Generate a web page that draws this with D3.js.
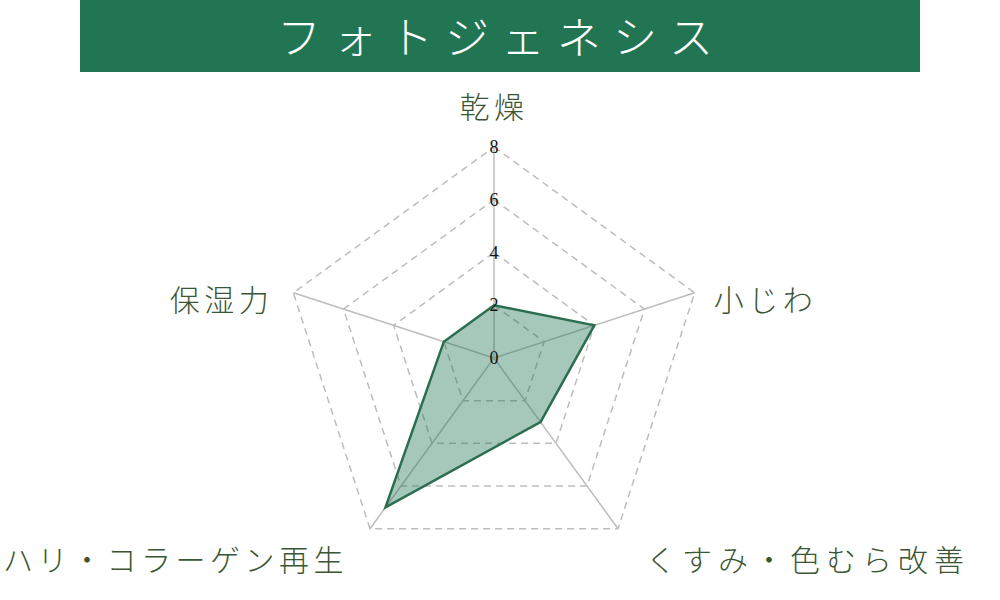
<!DOCTYPE html>
<html>
<head>
<meta charset="utf-8">
<script src="https://cdn.jsdelivr.net/npm/d3@7"></script>
<style>
  body { margin: 0; background: #fff; }
  svg { display: block; }
</style>
</head>
<body>
<div class="container"></div>
<script>
var title = 'フォトジェネシス';
var categories = ['乾燥', '小じわ', 'くすみ・色むら改善', 'ハリ・コラーゲン再生', '保湿力'];
var values = [2, 4, 3, 7, 2];
var ticks = [0, 2, 4, 6, 8];

const width = 1000, height = 600;
const cx = 494, cy = 358, radius = 211;
const green = '#217552';
const labelColor = '#3b5634';
const jp = "'Noto Sans CJK JP', sans-serif";

const svg = d3.select('.container')
  .append('svg')
  .attr('width', width)
  .attr('height', height);

// title banner
svg.append('rect')
  .attr('x', 80).attr('y', 0)
  .attr('width', 840).attr('height', 72)
  .attr('fill', green);

svg.append('text')
  .attr('x', 501).attr('y', 35)
  .attr('text-anchor', 'middle')
  .attr('dominant-baseline', 'central')
  .attr('font-family', jp)
  .attr('font-weight', 300)
  .attr('font-size', 44)
  .attr('letter-spacing', 12)
  .attr('fill', '#fff')
  .text(title);

const r = d3.scaleLinear().domain([0, 8]).range([0, radius]);
const angle = d3.scalePoint().domain(d3.range(categories.length))
  .range([0, 2 * Math.PI * (categories.length - 1) / categories.length]);

const pt = (i, v) => [cx + r(v) * Math.sin(angle(i)), cy - r(v) * Math.cos(angle(i))];

const g = svg.append('g');

// dashed rings
g.append('g')
  .selectAll('path')
  .data(ticks.filter(t => t > 0))
  .join('path')
  .attr('d', t => d3.line()(categories.map((c, i) => pt(i, t))) + 'Z')
  .attr('fill', 'none')
  .attr('stroke', '#bdbdbd')
  .attr('stroke-width', 1.5)
  .attr('stroke-dasharray', '7,5');

// spokes
g.append('g')
  .selectAll('line')
  .data(categories)
  .join('line')
  .attr('x1', cx).attr('y1', cy)
  .attr('x2', (d, i) => pt(i, 8)[0])
  .attr('y2', (d, i) => pt(i, 8)[1])
  .attr('stroke', '#bdbdbd')
  .attr('stroke-width', 1.5);

// data area
g.append('path')
  .datum(values)
  .attr('d', d => d3.line()(d.map((v, i) => pt(i, v))) + 'Z')
  .attr('fill', green)
  .attr('fill-opacity', 0.4)
  .attr('stroke', '#2a6e4f')
  .attr('stroke-width', 2.5)
  .attr('stroke-linejoin', 'miter');

// tick labels
g.append('g')
  .selectAll('text')
  .data(ticks)
  .join('text')
  .attr('x', cx)
  .attr('y', t => cy - r(t))
  .attr('text-anchor', 'middle')
  .attr('dominant-baseline', 'central')
  .attr('font-family', "'Liberation Serif', 'DejaVu Serif', serif")
  .attr('font-size', 18)
  .attr('fill', '#111')
  .text(t => t);

// category labels
g.append('g')
  .selectAll('text')
  .data(categories)
  .join('text')
  .each(function (d, i) {
    const s = Math.sin(angle(i)), c = Math.cos(angle(i));
    const v = pt(i, 8);
    let x = v[0], y = v[1], anchor = 'middle';
    if (Math.abs(s) < 0.1) { y -= 42; }
    else if (c > 0) { x += s > 0 ? 19 : -20; y += 5; anchor = s > 0 ? 'start' : 'end'; }
    else { x += s > 0 ? 28 : -22; y += 29; anchor = s > 0 ? 'start' : 'end'; }
    d3.select(this)
      .attr('x', x).attr('y', y)
      .attr('text-anchor', anchor)
      .attr('dominant-baseline', 'central')
      .attr('letter-spacing', d.length === 9 ? 6 : 4.5);
  })
  .attr('font-family', jp)
  .attr('font-weight', 300)
  .attr('font-size', 30)
  .attr('fill', labelColor)
  .text(d => d);
</script>
</body>
</html>
